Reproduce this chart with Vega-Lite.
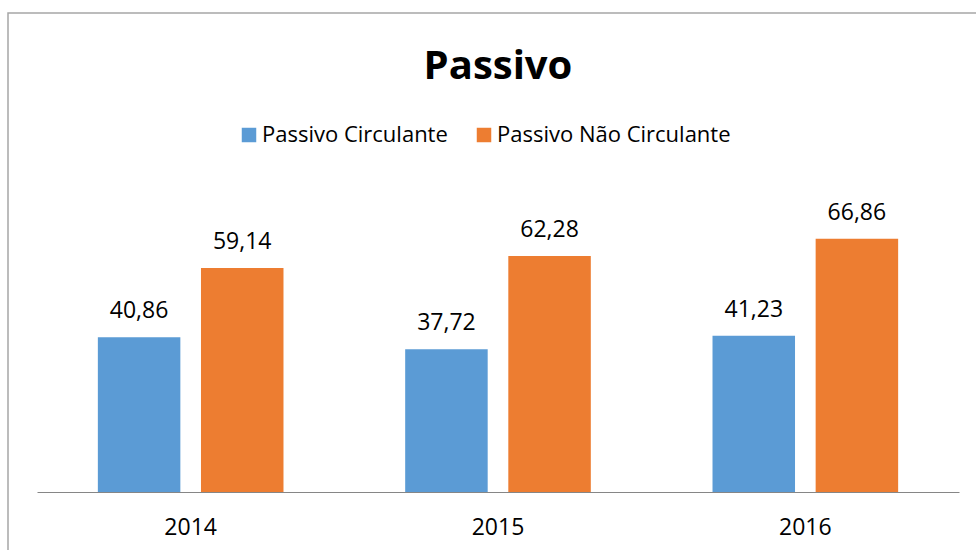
{
  "$schema": "https://vega.github.io/schema/vega-lite/v6.json",
  "autosize": "none",
  "width": 980,
  "height": 545,
  "padding": {"left": 8, "top": 13, "right": 0, "bottom": 0},
  "background": "white",
  "config": {
    "font": "Open Sans",
    "locale": {"number": {"decimal": ",", "thousands": ".", "grouping": [3], "currency": ["R$ ", ""]}},
    "view": {"stroke": "#a6a6a6", "strokeWidth": 1.5}
  },
  "title": {"text": "Passivo", "fontSize": 40, "fontWeight": "bold", "color": "#000000", "anchor": "middle", "offset": -74, "font": "Open Sans"},
  "data": {"values": [
    {"ano": "2014", "serie": "Passivo Circulante", "valor": 40.86},
    {"ano": "2014", "serie": "Passivo Não Circulante", "valor": 59.14},
    {"ano": "2015", "serie": "Passivo Circulante", "valor": 37.72},
    {"ano": "2015", "serie": "Passivo Não Circulante", "valor": 62.28},
    {"ano": "2016", "serie": "Passivo Circulante", "valor": 41.23},
    {"ano": "2016", "serie": "Passivo Não Circulante", "valor": 66.86}
  ]},
  "encoding": {
    "x": {"field": "ano", "type": "nominal", "scale": {"range": [29, 951], "paddingInner": 0, "paddingOuter": 0},
      "axis": {"title": null, "labelAngle": 0, "ticks": false, "tickSize": 0, "labelPadding": 42, "labelBaseline": "alphabetic", "labelFontSize": 23, "labelColor": "#000000", "domainColor": "#868686", "domainWidth": 1, "offset": -66, "grid": false}},
    "xOffset": {"field": "serie", "type": "nominal", "sort": ["Passivo Circulante", "Passivo Não Circulante"], "scale": {"paddingInner": 0.2, "paddingOuter": 0.59}},
    "y": {"field": "valor", "type": "quantitative", "scale": {"domain": [0, 80], "range": [479, 176], "nice": false, "zero": true}, "axis": null}
  },
  "layer": [
    {"mark": {"type": "bar"},
     "encoding": {"color": {"field": "serie", "type": "nominal",
       "scale": {"domain": ["Passivo Circulante", "Passivo Não Circulante"], "range": ["#5B9BD5", "#ED7D31"]},
       "legend": {"orient": "none", "legendX": 230, "legendY": 111, "direction": "horizontal", "title": null, "symbolType": "square", "symbolSize": 210, "symbolStrokeWidth": 0, "symbolOpacity": 1, "labelFontSize": 22, "labelColor": "#000000", "labelOffset": 2, "columnPadding": 25, "padding": 0, "labelLimit": 400}}}},
    {"mark": {"type": "text", "dy": -19, "baseline": "alphabetic", "fontSize": 23, "color": "#000000"},
     "encoding": {"text": {"field": "valor", "type": "quantitative", "format": ".2f"}}}
  ]
}
